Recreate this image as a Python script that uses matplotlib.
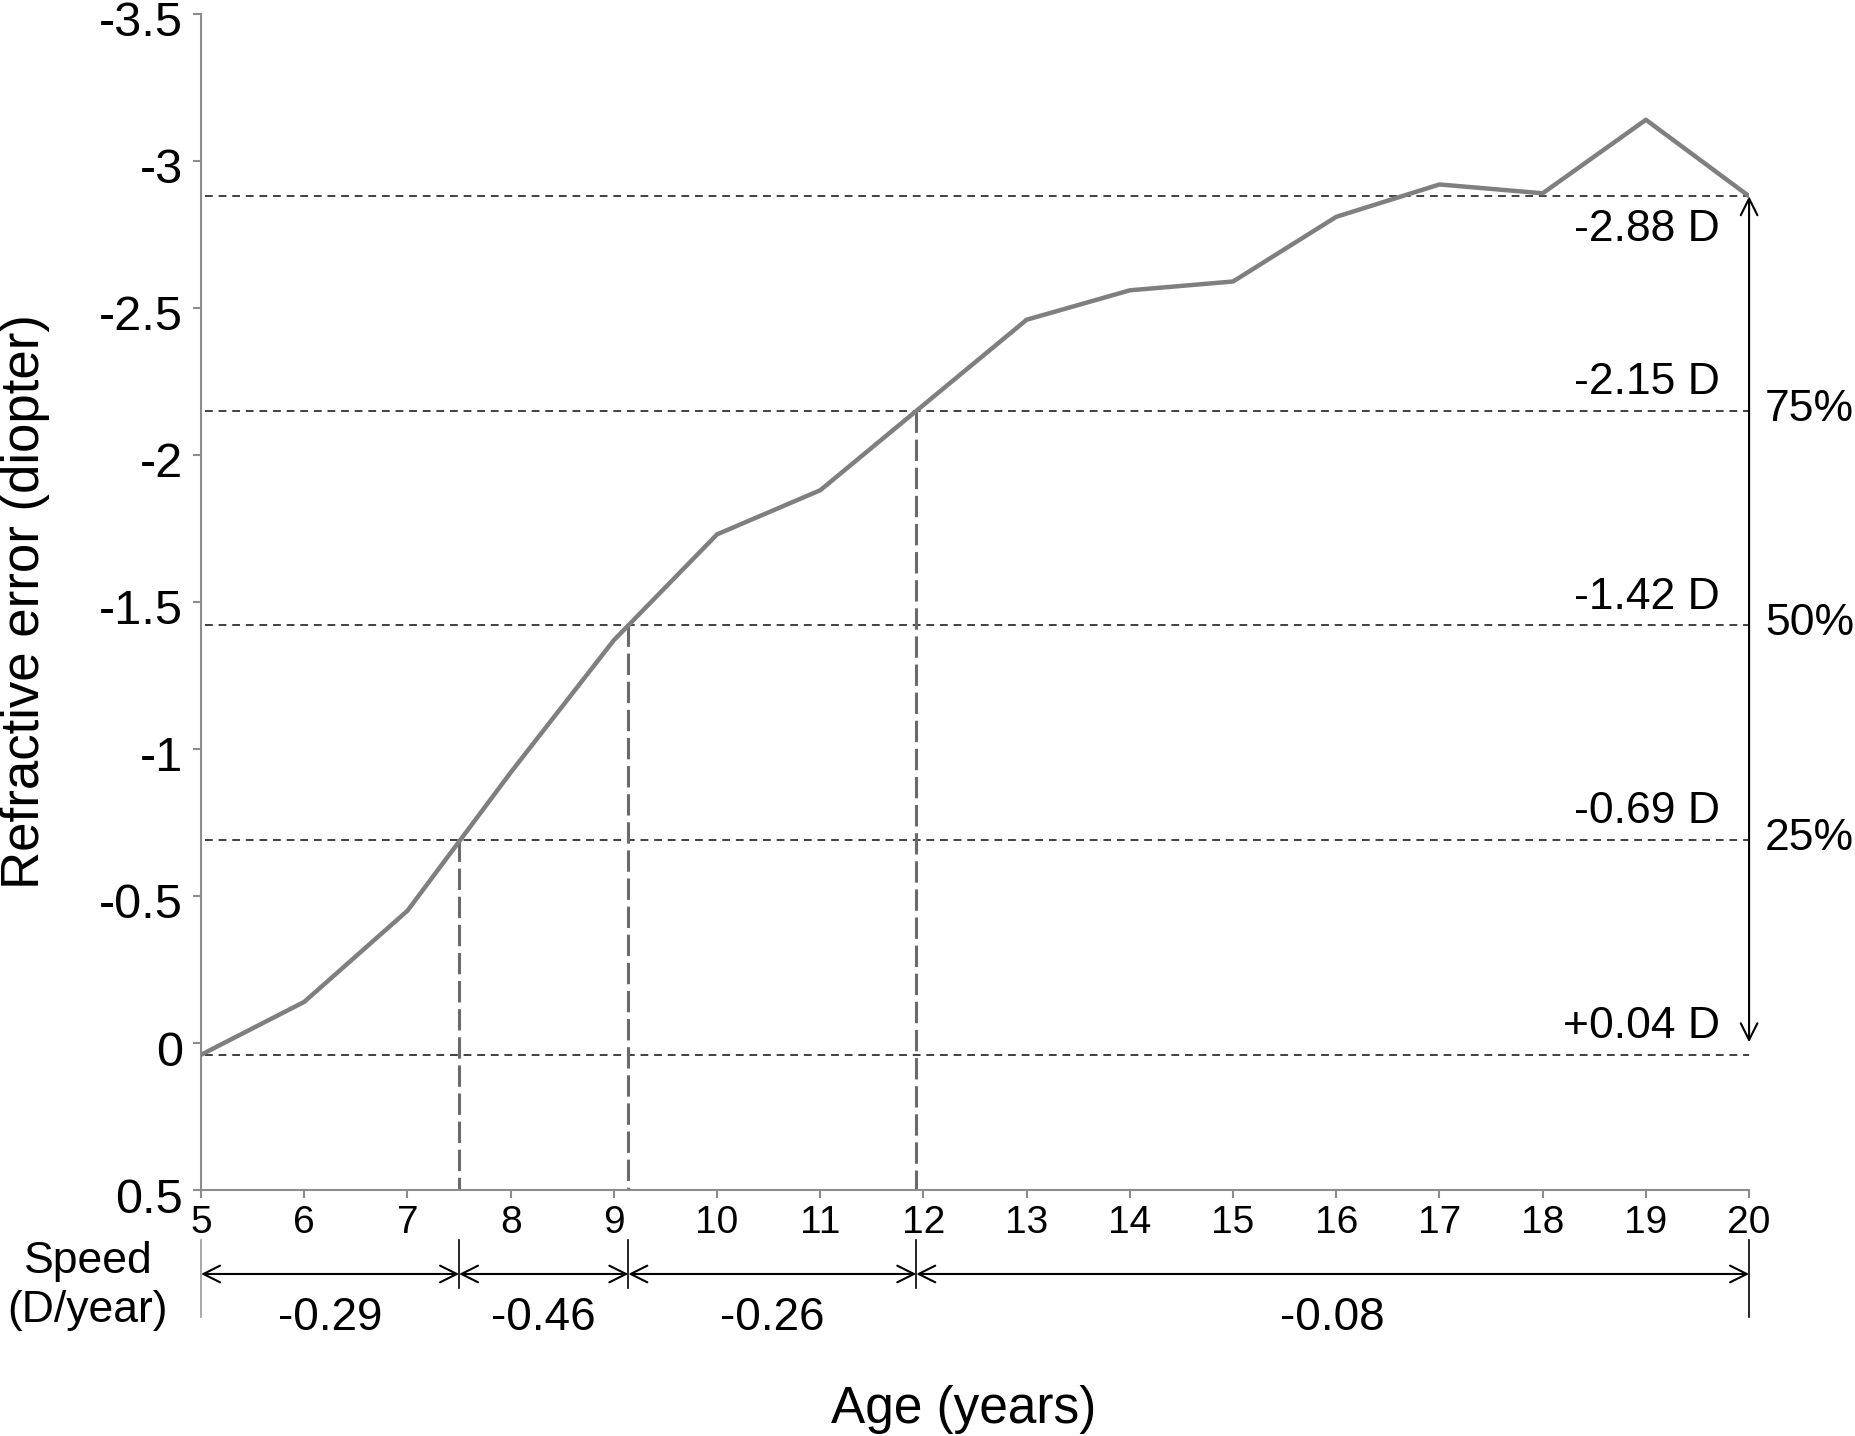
import matplotlib
matplotlib.use('Agg')
import matplotlib.pyplot as plt
from matplotlib.transforms import ScaledTranslation

plt.rcParams['font.family'] = ['Liberation Sans', 'DejaVu Sans']

# mean refractive error by age
ages = list(range(5, 21))
refraction = [0.04, -0.14, -0.45, -0.92, -1.37, -1.73, -1.88, -2.17,
              -2.46, -2.56, -2.59, -2.81, -2.92, -2.89, -3.14, -2.88]

# quartiles of the total change (top to bottom)
quartile_levels = [-2.88, -2.15, -1.42, -0.69, 0.04]
quartile_names = ['-2.88 D', '-2.15 D', '-1.42 D', '-0.69 D', '+0.04 D']
percent_names = ['75%', '50%', '25%']
crossing_ages = [11.93, 9.14, 7.5]

# speed of progression between the quartile ages
speed_bounds = [5, 7.5, 9.14, 11.93, 20]
speed_values = ['-0.29', '-0.46', '-0.26', '-0.08']

yticks = [-3.5, -3, -2.5, -2, -1.5, -1, -0.5, 0, 0.5]
xticks = ages

fig = plt.figure(figsize=(18.55, 14.36), dpi=100)
ax = fig.add_axes([0.1084, 0.1713, 0.8345, 0.8190])
ax.set_xlim(5, 20)
ax.set_ylim(0.5, -3.5)

for side in ['top', 'right']:
    ax.spines[side].set_visible(False)
for side in ['left', 'bottom']:
    ax.spines[side].set_color('#8c8c8c')
    ax.spines[side].set_linewidth(1.5)

ax.set_yticks(yticks)
ax.set_yticklabels(['{:g}'.format(v) for v in yticks])
ax.set_xticks(xticks)
ax.tick_params(color='#8c8c8c', labelcolor='black', length=6, width=1.5, direction='out')
ax.tick_params(axis='y', labelsize=35, pad=7)
ax.tick_params(axis='x', labelsize=28, pad=5)
for lab in ax.get_yticklabels():
    lab.set_transform(lab.get_transform() + ScaledTranslation(0, -5 / 100, fig.dpi_scale_trans))

ax.plot(ages, refraction, color='#7f7f7f', lw=3.2, zorder=4)

# horizontal quartile lines
ax.hlines(quartile_levels, 5.04, 20, colors='#404040', lw=1.4, linestyles=(0, (4, 3)), zorder=2)

# vertical lines down from the crossing points
for a, lvl in zip(crossing_ages, quartile_levels[1:4]):
    ax.plot([a, a], [lvl, 0.5], color='#6a6a6a', lw=2.2, dashes=(7, 2.2), zorder=2)

for i, (name, lvl) in enumerate(zip(quartile_names, quartile_levels)):
    dy = -32 if i == 0 else 12
    ax.annotate(name, xy=(19.72, lvl), xytext=(0, dy), textcoords='offset points',
                ha='right', va='baseline', fontsize=32)

for name, lvl in zip(percent_names, quartile_levels[1:4]):
    ax.annotate(name, xy=(20, lvl), xytext=(11.5, -7), textcoords='offset points',
                ha='left', va='baseline', fontsize=32, annotation_clip=False)

ax.annotate('', xy=(20, quartile_levels[0]), xytext=(20, quartile_levels[-1]),
            arrowprops=dict(arrowstyle='<->,head_length=0.6,head_width=0.3', lw=1.5,
                            color='black', shrinkA=9, shrinkB=0, mutation_scale=20),
            annotation_clip=False)

# speed row under the axis
trans = ax.get_xaxis_transform()
for a, b, val in zip(speed_bounds[:-1], speed_bounds[1:], speed_values):
    ax.annotate('', xy=(b, -0.0714), xycoords=trans, xytext=(a, -0.0714), textcoords=trans,
                arrowprops=dict(arrowstyle='<->,head_length=0.6,head_width=0.3', lw=1.5,
                                color='black', shrinkA=0, shrinkB=0, mutation_scale=20),
                annotation_clip=False)
    ax.text((a + b) / 2, -0.119, val, transform=trans, ha='center', va='baseline', fontsize=33)

for x in speed_bounds:
    low = -0.108 if x in (speed_bounds[0], speed_bounds[-1]) else -0.0833
    col = '#999999' if x == speed_bounds[0] else 'black'
    ax.plot([x, x], [-0.0425, low], transform=trans, clip_on=False, color=col, lw=1.2)

fig.text(0.0474, 0.1135, 'Speed', ha='center', va='baseline', fontsize=32)
fig.text(0.0474, 0.0794, '(D/year)', ha='center', va='baseline', fontsize=32)

fig.text(0.0135, 0.5808, 'Refractive error (diopter)', rotation=90, ha='center', va='center', fontsize=38)
fig.text(0.5197, 0.009, 'Age (years)', ha='center', va='baseline', fontsize=37)

fig.savefig('out.png', dpi=100)
